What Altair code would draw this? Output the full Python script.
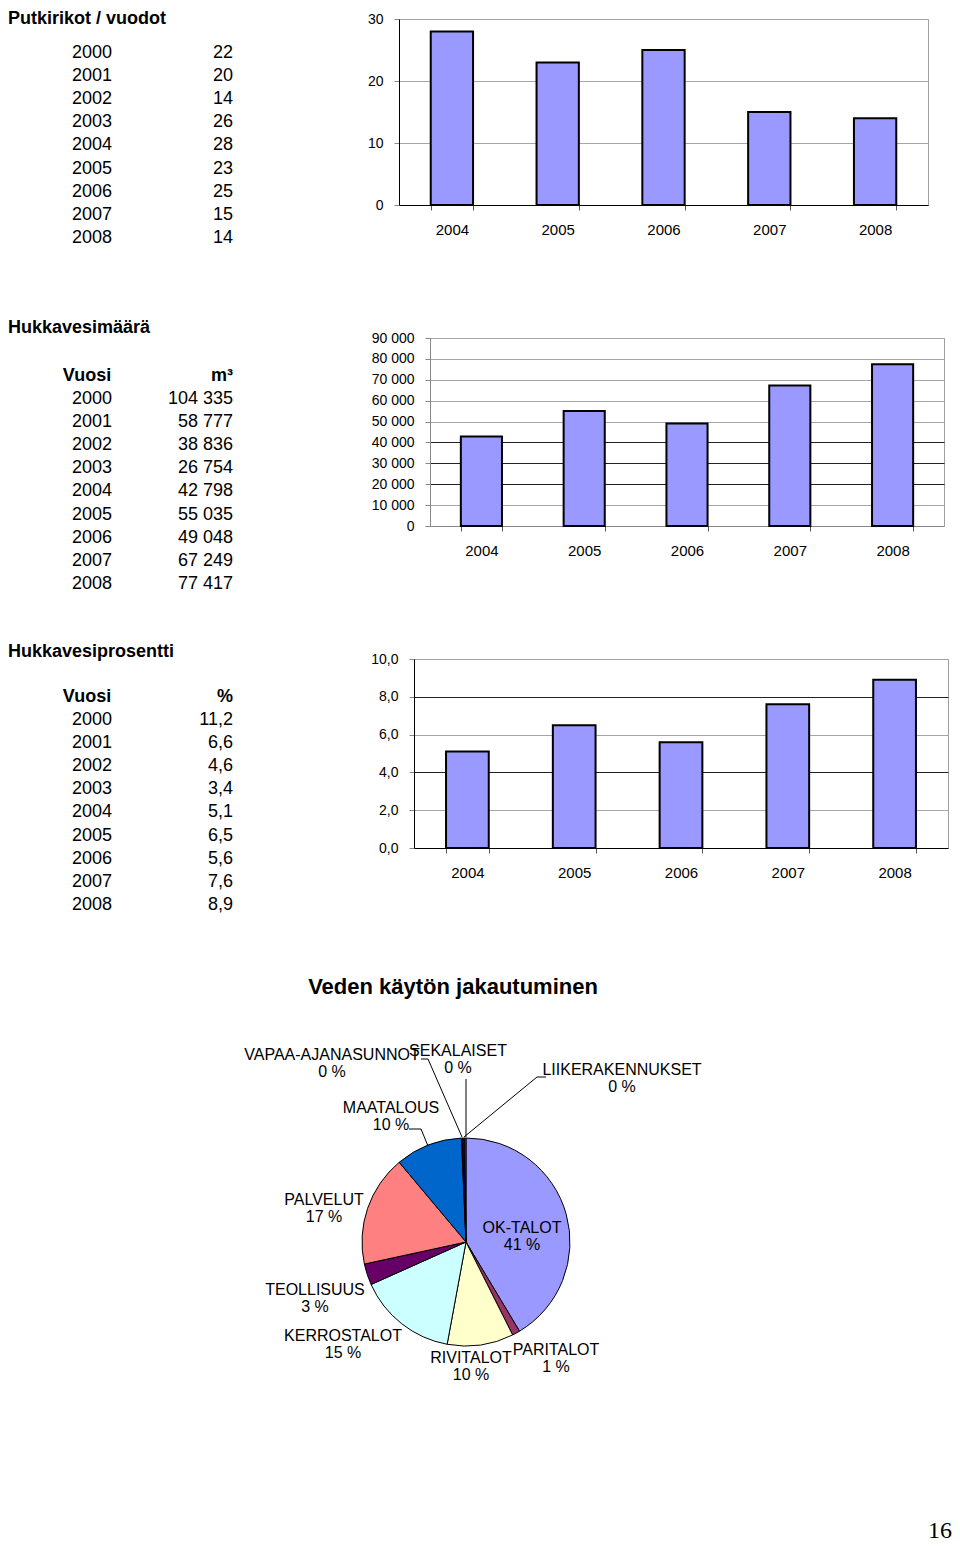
import altair as alt
import pandas as pd

FONT = "Liberation Sans"

# ---------------- data ----------------
years_all = [2000, 2001, 2002, 2003, 2004, 2005, 2006, 2007, 2008]
putkirikot = [22, 20, 14, 26, 28, 23, 25, 15, 14]
hukkavesi_m3 = [104335, 58777, 38836, 26754, 42798, 55035, 49048, 67249, 77417]
hukkavesi_pct = [11.2, 6.6, 4.6, 3.4, 5.1, 6.5, 5.6, 7.6, 8.9]
chart_years = [2004, 2005, 2006, 2007, 2008]

pie_categories = ["OK-TALOT", "PARITALOT", "RIVITALOT", "KERROSTALOT", "TEOLLISUUS",
                  "PALVELUT", "MAATALOUS", "VAPAA-AJANASUNNOT", "SEKALAISET", "LIIKERAKENNUKSET"]
pie_values = [41.4, 1.2, 10.3, 15.4, 3.3, 17.3, 10.4, 0.1, 0.4, 0.2]

# ---------------- styles / layout ----------------
pie_colors = ["#9999FF", "#993366", "#FFFFCC", "#CCFFFF", "#660066",
              "#FF8080", "#0066CC", "#CCCCFF", "#000080", "#FF00FF"]
BAR_COLOR = "#9999FF"
GRID_GRAY = "#a6a6a6"
PITCH = 23.1
NOFRAME = alt.ViewBackground(stroke="transparent", strokeWidth=0)

# pie view placement (page pixels) and label anchors (page pixels)
PIE_LEFT, PIE_TOP, PIE_W, PIE_H = 8, 963, 916, 560
label_name_pos = {
    "VAPAA-AJANASUNNOT": (332, 1056), "SEKALAISET": (458, 1052), "LIIKERAKENNUKSET": (622, 1071),
    "MAATALOUS": (391, 1109), "PALVELUT": (324, 1201), "OK-TALOT": (522, 1229),
    "TEOLLISUUS": (315, 1291), "KERROSTALOT": (343, 1337), "RIVITALOT": (471, 1359),
    "PARITALOT": (556, 1351),
}
PCT_DY = 17
leader_lines = {
    "VAPAA-AJANASUNNOT": [(421, 1060), (428, 1060), (462, 1138)],
    "SEKALAISET": [(466, 1080), (466, 1138)],
    "LIIKERAKENNUKSET": [(546, 1078), (537, 1078), (464, 1138)],
    "MAATALOUS": [(409, 1130), (421, 1130), (428, 1147)],
}
PIE_TITLE_POS = (453, 988)
PAGE_NO_POS = (940, 1532)


def make_table(title, header, vals_text, width, height, view_top, first_row_y, title_y,
               header_y=None, year_x=84, val_x=225):
    r0 = (view_top - first_row_y) / PITCH
    r1 = r0 + height / PITCH
    yscale = alt.Scale(domain=[r0, r1], reverse=True, nice=False, zero=False)
    rows = pd.DataFrame({"r": list(range(len(years_all))),
                         "year": [str(y) for y in years_all],
                         "val": vals_text})
    base = alt.Chart(rows)
    y_enc = alt.Y("r:Q", scale=yscale, axis=None)
    txt = dict(baseline="middle", fontSize=18, font=FONT, color="black")
    years_layer = base.mark_text(align="center", **txt).encode(
        x=alt.value(year_x), y=y_enc, text="year:N")
    vals_layer = base.mark_text(align="right", **txt).encode(
        x=alt.value(val_x), y=y_enc, text="val:N")
    tdf = pd.DataFrame({"r": [(title_y - first_row_y) / PITCH], "t": [title]})
    title_layer = alt.Chart(tdf).mark_text(align="left", fontWeight="bold", **txt).encode(
        x=alt.value(0), y=y_enc, text="t:N")
    layers = [years_layer, vals_layer, title_layer]
    if header is not None:
        hr = (header_y - first_row_y) / PITCH
        hdf1 = pd.DataFrame({"r": [hr], "t": ["Vuosi"]})
        hdf2 = pd.DataFrame({"r": [hr], "t": [header]})
        layers.append(alt.Chart(hdf1).mark_text(align="center", fontWeight="bold", **txt).encode(
            x=alt.value(year_x - 5), y=y_enc, text="t:N"))
        layers.append(alt.Chart(hdf2).mark_text(align="right", fontWeight="bold", **txt).encode(
            x=alt.value(val_x), y=y_enc, text="t:N"))
    return alt.layer(*layers).properties(width=width, height=height, view=NOFRAME)


def make_bars(values, width, height, ymax, ticks, label_expr=None, grid_color=GRID_GRAY,
              domain_color="black"):
    df = pd.DataFrame({"year": [str(y) for y in chart_years], "v": values})
    yaxis_kw = dict(title=None, values=ticks, tickSize=5, tickColor="#888", labelPadding=11,
                    labelFontSize=14, labelFont=FONT, labelColor="black", domainColor=domain_color,
                    gridColor=grid_color, gridWidth=1)
    if label_expr:
        yaxis_kw["labelExpr"] = label_expr
    return alt.Chart(df).mark_bar(color=BAR_COLOR, stroke="black", strokeWidth=2).encode(
        x=alt.X("year:N", title=None,
                scale=alt.Scale(paddingInner=0.6, paddingOuter=0.3),
                axis=alt.Axis(labelAngle=0, tickBand="extent", tickSize=5, tickColor="#555",
                              labelPadding=12, labelFontSize=15, labelFont=FONT,
                              labelColor="black", domainColor=domain_color, grid=False)),
        y=alt.Y("v:Q", scale=alt.Scale(domain=[0, ymax], nice=False),
                axis=alt.Axis(**yaxis_kw)),
    ).properties(width=width, height=height,
                 view=alt.ViewBackground(stroke="#a0a0a0", strokeWidth=1))


def row(table, bars):
    return alt.HConcatChart(hconcat=[table, bars], spacing=0, bounds="flush")


# ---- section 1
table1 = make_table("Putkirikot / vuodot", None, [str(v) for v in putkirikot],
                    width=391, height=300, view_top=18, first_row_y=52, title_y=18)
bars1 = make_bars(putkirikot[4:], 529, 186, 30, [0, 10, 20, 30])

# ---- section 2
table2 = make_table("Hukkavesimäärä", "m³", [f"{v:,}".replace(",", " ") for v in hukkavesi_m3],
                    width=422, height=304, view_top=338, first_row_y=399, title_y=328,
                    header_y=376)
bars2 = make_bars(hukkavesi_m3[4:], 514, 188, 90000, list(range(0, 90001, 10000)),
                  label_expr="replace(format(datum.value, ','), ',', ' ')",
                  grid_color={"condition": {"test": "datum.value >= 20000 && datum.value <= 40000",
                                            "value": "#222222"}, "value": GRID_GRAY},
                  domain_color="#888888")

# ---- section 3
table3 = make_table("Hukkavesiprosentti", "%", [f"{v:.1f}".replace(".", ",") for v in hukkavesi_pct],
                    width=406, height=303, view_top=660, first_row_y=721, title_y=653,
                    header_y=698)
bars3 = make_bars(hukkavesi_pct[4:], 534, 189, 10, [0, 2, 4, 6, 8, 10],
                  label_expr="replace(format(datum.value, '.1f'), '.', ',')",
                  grid_color={"condition": {"test": "datum.value == 4 || datum.value == 8",
                                            "value": "#222222"}, "value": GRID_GRAY})

# ---- pie
total = sum(pie_values)
pie_df = pd.DataFrame({"cat": pie_categories, "v": pie_values, "i": list(range(len(pie_values)))})
xs = alt.Scale(domain=[PIE_LEFT, PIE_LEFT + PIE_W], nice=False, zero=False)
ys = alt.Scale(domain=[PIE_TOP, PIE_TOP + PIE_H], reverse=True, nice=False, zero=False)

arcs = alt.Chart(pie_df).mark_arc(outerRadius=104, stroke="black", strokeWidth=1).encode(
    theta=alt.Theta("v:Q", stack=True),
    color=alt.Color("cat:N", scale=alt.Scale(domain=pie_categories, range=pie_colors), legend=None),
    order=alt.Order("i:Q"),
)

lab_rows = []
for c, v in zip(pie_categories, pie_values):
    nx, ny = label_name_pos[c]
    lab_rows.append({"cat": c, "nx": nx, "ny": ny, "py": ny + PCT_DY,
                     "pct": f"{round(v / total * 100)} %"})
lab_df = pd.DataFrame(lab_rows)
names = alt.Chart(lab_df).mark_text(fontSize=16, font=FONT, color="black", baseline="middle").encode(
    x=alt.X("nx:Q", scale=xs, axis=None), y=alt.Y("ny:Q", scale=ys, axis=None), text="cat:N")
pcts = alt.Chart(lab_df).mark_text(fontSize=16, font=FONT, color="black", baseline="middle").encode(
    x=alt.X("nx:Q", scale=xs, axis=None), y=alt.Y("py:Q", scale=ys, axis=None), text="pct:N")

line_rows = []
for c, pts in leader_lines.items():
    for k, (px, py) in enumerate(pts):
        line_rows.append({"seg": c, "o": k, "lx": px, "ly": py})
lines = alt.Chart(pd.DataFrame(line_rows)).mark_line(color="black", strokeWidth=1).encode(
    x=alt.X("lx:Q", scale=xs, axis=None), y=alt.Y("ly:Q", scale=ys, axis=None),
    detail="seg:N", order="o:Q")

ttl = alt.Chart(pd.DataFrame({"tx": [PIE_TITLE_POS[0]], "ty": [PIE_TITLE_POS[1]],
                              "t": ["Veden käytön jakautuminen"]})).mark_text(
    fontSize=22, fontWeight="bold", font=FONT, color="black", baseline="middle").encode(
    x=alt.X("tx:Q", scale=xs, axis=None), y=alt.Y("ty:Q", scale=ys, axis=None), text="t:N")

pageno = alt.Chart(pd.DataFrame({"tx": [PAGE_NO_POS[0]], "ty": [PAGE_NO_POS[1]], "t": ["16"]})).mark_text(
    fontSize=24, font="Liberation Serif", color="black", baseline="middle").encode(
    x=alt.X("tx:Q", scale=xs, axis=None), y=alt.Y("ty:Q", scale=ys, axis=None), text="t:N")

pie = alt.layer(arcs, lines, names, pcts, ttl, pageno).properties(
    width=PIE_W, height=PIE_H, view=NOFRAME)

chart = alt.VConcatChart(
    vconcat=[row(table1, bars1), row(table2, bars2), row(table3, bars3), pie],
    spacing=0,
).properties(padding={"top": 2, "bottom": 0, "left": 0, "right": 0}).configure_view(
    strokeWidth=0).configure(font=FONT)

chart.save("out.html", embed_options={"renderer": "svg", "actions": False})
